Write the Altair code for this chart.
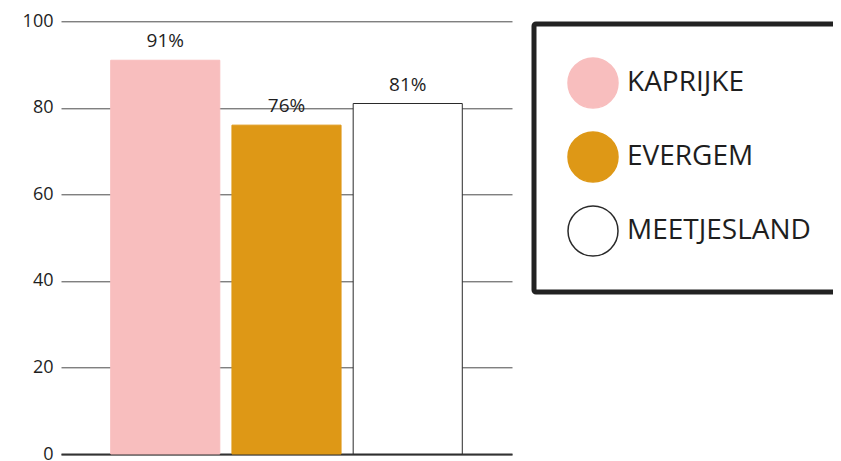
import altair as alt
import pandas as pd

regions = ["KAPRIJKE", "EVERGEM", "MEETJESLAND"]
values = [91, 76, 81]
labels = ["91%", "76%", "81%"]
fills = ["#F8BEBE", "#DE9816", "#FFFFFF"]
strokes = ["#F8BEBE", "#DE9816", "#2a2a2a"]
y_ticks = [0, 20, 40, 60, 80, 100]

df = pd.DataFrame({"regio": regions, "waarde": values, "label": labels})

FONT = "Open Sans"
TXT = "#1e1e1e"

x_enc = alt.X(
    "regio:N",
    sort=regions,
    scale=alt.Scale(paddingInner=0.1, paddingOuter=0.41),
    axis=alt.Axis(title=None, labels=False, ticks=False, domain=True,
                  domainColor="#333333", domainWidth=2, grid=False),
)
y_enc = alt.Y(
    "waarde:Q",
    scale=alt.Scale(domain=[0, 100], nice=False),
    axis=alt.Axis(title=None, values=y_ticks, grid=True, gridColor="#4a4a4a",
                  gridWidth=1, domain=False, ticks=False, labelPadding=8,
                  labelFontSize=18, labelFontWeight=500, labelColor=TXT,
                  labelFont=FONT),
)

bars = alt.Chart().mark_bar(strokeWidth=1).encode(
    fill=alt.Fill(
        "regio:N",
        sort=regions,
        scale=alt.Scale(domain=regions, range=fills),
        legend=alt.Legend(
            title=None,
            orient="none",
            legendX=473,
            legendY=2.7,
            symbolType="circle",
            symbolSize=2500,
            symbolStrokeWidth=1.5,
            labelFontSize=28,
            labelFont=FONT,
            labelColor=TXT,
            labelOffset=8,
            labelLimit=400,
            rowPadding=18,
            padding=33,
            strokeColor="#222222",
            fillColor="#FFFFFF",
            cornerRadius=2,
        ),
    ),
    stroke=alt.Stroke(
        "regio:N",
        sort=regions,
        scale=alt.Scale(domain=regions, range=strokes),
        legend=alt.Legend(title=None, orient="none", legendX=473, legendY=2.7),
    ),
)

text = alt.Chart().mark_text(
    baseline="bottom", dy=-9, fontSize=19, fontWeight=500, font=FONT, color=TXT
).encode(
    text="label:N",
)

chart = alt.layer(bars, text, data=df).encode(
    x=x_enc,
    y=y_enc,
).properties(
    width=451,
    height=432.7,
    autosize=alt.AutoSizeParams(type="none"),
    padding={"left": 53, "top": 13.3, "right": 321, "bottom": 7},
).configure_view(stroke=None).configure_legend(strokeWidth=5)

chart.save("out.html", embed_options={"renderer": "svg", "actions": False})
